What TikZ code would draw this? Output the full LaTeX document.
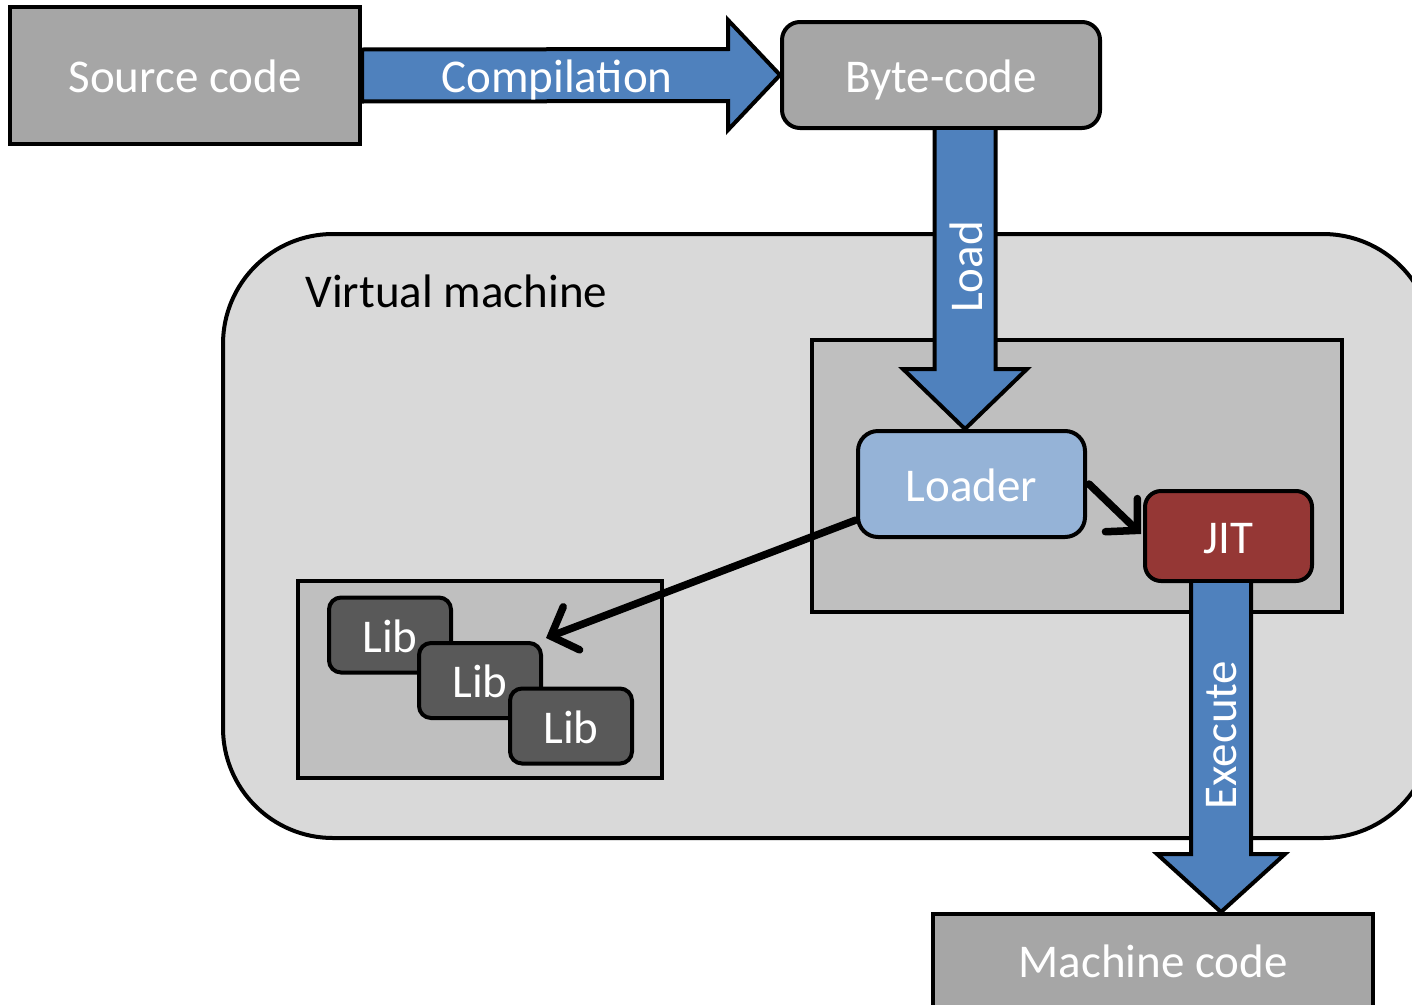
\documentclass[tikz,border=0pt]{standalone}
\usepackage{fontspec}
\setmainfont{Carlito}
\usetikzlibrary{calc,arrows.meta}
\definecolor{boxgray}{HTML}{A6A6A6}
\definecolor{vmgray}{HTML}{D9D9D9}
\definecolor{ingray}{HTML}{BFBFBF}
\definecolor{libgray}{HTML}{595959}
\definecolor{arrowblue}{HTML}{4F81BD}
\definecolor{loaderblue}{HTML}{95B3D7}
\definecolor{jitred}{HTML}{953735}
\begin{document}
\begin{tikzpicture}[x=1pt,y=-1pt,
  bigfont/.style={font=\fontsize{47}{50}\selectfont},
  fixtext/.style={text height=42pt,text depth=8pt},
  blockbox/.style={draw=black,line width=4pt,inner sep=0pt,bigfont,fixtext,text=white},
  blockarrow/.style={draw=black,line width=4pt,fill=arrowblue,line join=miter},
  thinarrow/.style={draw=black,line width=7.5pt,line cap=round,-{Straight Barb[length=22pt,width=46pt,line cap=round,line width=7.5pt]}},
  libbox/.style={blockbox,fill=libgray,rounded corners=12pt,minimum width=122pt,minimum height=75pt}
]
\useasboundingbox (0,0) rectangle (1412,1004);
\fill[white] (0,0) rectangle (1412,1004);

% virtual machine container
\node[draw=black,line width=4pt,fill=vmgray,rounded corners=110pt,minimum width=1210pt,minimum height=604pt,inner sep=0pt] (vm) at (828,536) {};
\node[bigfont,anchor=west] (vmlabel) at (302,291) {Virtual machine};

% inner boxes
\node[draw=black,line width=4pt,fill=ingray,minimum width=530pt,minimum height=272pt,inner sep=0pt] (core) at (1077,476) {};
\node[draw=black,line width=4pt,fill=ingray,minimum width=364pt,minimum height=197pt,inner sep=0pt] (libs) at (480,679.5) {};

% top row
\node[blockbox,fill=boxgray,minimum width=350pt,minimum height=137pt] (src) at (185,75.5) {Source code};
\node[blockbox,fill=boxgray,rounded corners=18pt,minimum width=318pt,minimum height=106pt] (byte) at (941,75) {Byte-code};

% loader & jit
\node[blockbox,fill=loaderblue,rounded corners=20pt,minimum width=227pt,minimum height=106pt] (loader) at (971.5,484) {Loader};
\node[blockbox,fill=jitred,rounded corners=16pt,minimum width=167pt,minimum height=90pt] (jit) at (1228.5,536) {JIT};

% machine code
\node[blockbox,fill=boxgray,minimum width=440pt,minimum height=100pt] (mc) at (1153,964) {};
\node[bigfont,fixtext,text=white] (mclabel) at (1153,960) {Machine code};

% libs
\node[libbox] (lib1) at (390,635) {Lib};
\node[libbox] (lib2) at (480,680.5) {Lib};
\node[libbox] (lib3) at (571,726) {Lib};

% compilation arrow
\draw[blockarrow] ($(src.east)+(0,-26)$) -- ($(byte.west)+(-52,-26)$) -- ($(byte.west)+(-52,-55)$)
  -- (byte.west) -- ($(byte.west)+(-52,55)$) -- ($(byte.west)+(-52,26)$) -- ($(src.east)+(0,26)$) -- cycle;
\node[bigfont,fixtext,text=white] (complabel) at (557,75) {Compilation};

% load arrow
\coordinate (ls) at ($(byte.south)+(24,0)$);
\coordinate (lt) at (ls |- loader.north);
\draw[blockarrow] ($(ls)+(-30.5,0)$) -- ($(lt)+(-30.5,-60)$) -- ($(lt)+(-62,-60)$) -- (lt)
  -- ($(lt)+(62,-60)$) -- ($(lt)+(30.5,-60)$) -- ($(ls)+(30.5,0)$);
\node[bigfont,text=white,rotate=90] (loadlabel) at ($(ls)+(1,137)$) {Load};

% execute arrow
\coordinate (es) at ($(jit.south)+(-7.5,0)$);
\coordinate (et) at (es |- mc.north);
\draw[blockarrow] ($(es)+(-30,0)$) -- ($(et)+(-30,-58)$) -- ($(et)+(-64,-58)$) -- (et)
  -- ($(et)+(64,-58)$) -- ($(et)+(30,-58)$) -- ($(es)+(30,0)$);
\node[bigfont,text=white,rotate=90] (execlabel) at ($(es)+(1,152)$) {Execute};

% black arrows
\draw[thinarrow] ($(loader.west)+(0,36)$) -- ($(lib2.north east)+(3,-3)$);
\draw[thinarrow] ($(loader.east)+(2,0)$) -- ($(jit.west)+(-2,-2)$);
\end{tikzpicture}
\end{document}
